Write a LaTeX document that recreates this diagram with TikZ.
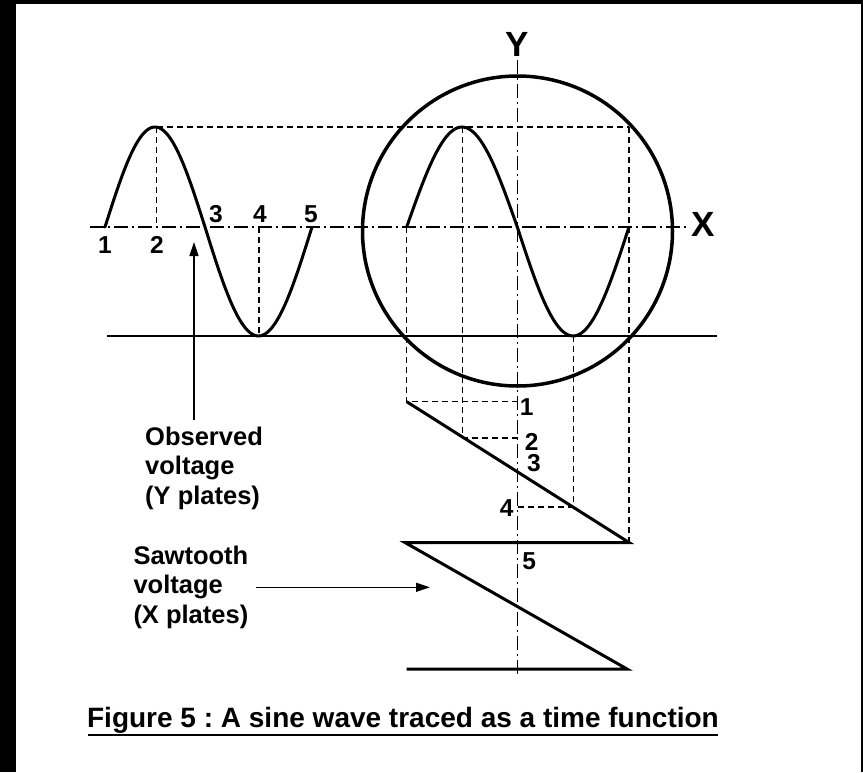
\documentclass[tikz,border=0pt]{standalone}
\usepackage{fontspec}
\setmainfont{Liberation Sans}
\usetikzlibrary{arrows.meta}
\frenchspacing
\begin{document}
\begin{tikzpicture}[x=1pt,y=-1pt,
  curve/.style={line width=3pt, line cap=round, line join=round},
  guide/.style={line width=1.4pt, dash pattern=on 6pt off 4pt},
  axisline/.style={line width=1.4pt, dash pattern=on 14pt off 4pt on 2pt off 4pt},
  lbl/.style={font=\fontsize{25.5}{29.5}\selectfont\bfseries, inner sep=0pt, align=left, anchor=north west},
  num/.style={font=\fontsize{24.5}{28}\selectfont\bfseries, inner sep=0pt, anchor=base},
  axislbl/.style={font=\fontsize{35}{40}\selectfont\bfseries, inner sep=0pt, anchor=base},
  pointer/.style={line width=1.4pt, -{Triangle[length=14pt,width=9pt]}}
]
\useasboundingbox (0,0) rectangle (863,772);
\fill[black] (0,0) rectangle (863,772);
\fill[white] (16,4) rectangle (861,772);

% coordinates
\coordinate (L1) at (105,227);
\coordinate (L2) at (156.7,127);
\coordinate (L2a) at (156.7,227);
\coordinate (L4) at (259,336);
\coordinate (L4a) at (259,227);
\coordinate (R1) at (406.7,227);
\coordinate (R2) at (462.7,127);
\coordinate (R4) at (573.3,336);
\coordinate (R5) at (629,227);
\coordinate (R5t) at (629,127);
\coordinate (S1) at (406.7,401.7);
\coordinate (S2) at (462.7,438);
\coordinate (S4) at (573.3,507);
\coordinate (S5) at (629,542.5);
\coordinate (S6) at (405,542.5);
\coordinate (S7) at (627,669);
\coordinate (S8) at (406.7,669);
\coordinate (Y1) at (517.5,401.7);
\coordinate (Y2) at (517.5,438);
\coordinate (Y4) at (517.5,507);

% axes
\draw[axisline] (90,227) coordinate (xa) -- (688,227) coordinate (xb);
\draw[axisline] (517.5,60) coordinate (ya) -- (517.5,675) coordinate (yb);
\node[axislbl] (Ylab) at (517.5,56) {Y};
\node[axislbl] (Xlab) at (703.5,236.7) {X};

% baseline of troughs
\draw[line width=1.5pt] (107,336) coordinate (ba) -- (717,336) coordinate (bb);

% dashed guides
\draw[guide] (L2) -- (R5t);
\draw[guide] (L2) -- (L2a);
\draw[guide] (L4a) -- (L4);
\draw[guide] (R1) -- (S1) -- (Y1);
\draw[guide] (R2) -- (S2) -- (Y2);
\draw[guide] (R4) -- (S4) -- (Y4);
\draw[guide] (R5t) -- (S5);

% circle (screen)
\draw[line width=3.5pt] (517.5,231) circle[radius=155];

% sine waves
\draw[curve] plot[domain=0:1, samples=60, smooth] ({105+\x*100},{227-100*sin(\x*180)})
  -- plot[domain=0:1, samples=60, smooth] ({205+\x*107},{227+109*sin(\x*180)});
\draw[curve] plot[domain=0:1, samples=60, smooth] ({406.7+\x*110.6},{227-100*sin(\x*180)})
  -- plot[domain=0:1, samples=60, smooth] ({517.3+\x*111.7},{227+109*sin(\x*180)});

% sawtooth
\draw[curve, line cap=butt, line join=miter] (S1) -- (S5) -- (S6) -- (S7) -- (S8);

% numbers, left wave
\node[num] (n1) at (105,253) {1};
\node[num] (n2) at (157,253) {2};
\node[num] (n3) at (216,222) {3};
\node[num] (n4) at (260,222) {4};
\node[num] (n5) at (311,222) {5};
% numbers, sawtooth
\node[num] (m1) at (526.7,415) {1};
\node[num] (m2) at (531.7,450) {2};
\node[num] (m3) at (534,471.7) {3};
\node[num] (m4) at (506.7,516.7) {4};
\node[num] (m5) at (529.3,569.3) {5};

% labels and pointers
\node[lbl] (obs) at (145,426.5) {Observed\\voltage\\(Y plates)};
\node[lbl] (saw) at (133.3,545.8) {Sawtooth\\voltage\\(X plates)};
\coordinate (obsTip) at (194,242);
\coordinate (obsFoot) at (194,420);
\draw[pointer] (obsFoot) -- (obsTip);
\coordinate (sawStart) at (256,587.3);
\coordinate (sawTip) at (430,587.3);
\draw[pointer] (sawStart) -- (sawTip);

% caption
\node[font=\fontsize{28}{32}\selectfont\bfseries, inner sep=0pt, anchor=base] (cap) at (403,727) {Figure 5 : A sine wave traced as a time function};
\draw[line width=2pt] (88,735) coordinate (ua) -- (718,735) coordinate (ub);
\end{tikzpicture}
\end{document}
